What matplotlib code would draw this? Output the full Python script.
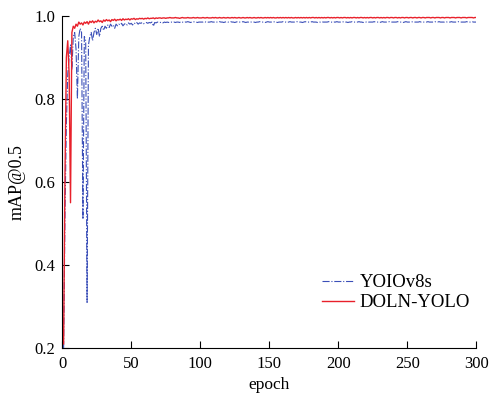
import numpy as np
import matplotlib
matplotlib.use('Agg')
import matplotlib.pyplot as plt

plt.rcParams['font.family'] = ['Liberation Serif', 'DejaVu Serif']

# mAP@0.5 per epoch (epochs 1..300)
yolov8s_map = [
    0.20, 0.52, 0.74, 0.86, 0.90, 0.93, 0.87, 0.95, 0.96, 0.92,
    0.80, 0.95, 0.97, 0.96, 0.51, 0.95, 0.94, 0.31, 0.93, 0.95,
    0.96, 0.94, 0.96, 0.97, 0.955, 0.97, 0.95, 0.97, 0.975, 0.965,
    0.975, 0.97, 0.978, 0.972, 0.98, 0.975, 0.978, 0.97, 0.98, 0.976,
    0.98, 0.978, 0.982, 0.976, 0.98, 0.982, 0.978, 0.983, 0.98, 0.982,
    0.978, 0.983, 0.981, 0.984, 0.98, 0.983, 0.982, 0.984, 0.981, 0.983,
    0.984, 0.982, 0.984, 0.983, 0.985, 0.975, 0.984, 0.983, 0.985, 0.984,
    0.984, 0.985, 0.983, 0.985, 0.984, 0.985, 0.984, 0.985, 0.985, 0.984,
    0.985, 0.984, 0.985, 0.985, 0.984, 0.986, 0.985, 0.984, 0.985, 0.985,
    0.986, 0.985, 0.984, 0.985, 0.986, 0.985, 0.985, 0.984, 0.985, 0.985,
    0.985, 0.985, 0.986, 0.985, 0.984, 0.985, 0.985, 0.986, 0.985, 0.985,
    0.984, 0.985, 0.985, 0.986, 0.985, 0.985, 0.984, 0.985, 0.986, 0.985,
    0.985, 0.986, 0.985, 0.985, 0.984, 0.985, 0.986, 0.985, 0.985, 0.985,
    0.986, 0.985, 0.984, 0.985, 0.985, 0.986, 0.985, 0.985, 0.985, 0.984,
    0.985, 0.985, 0.986, 0.985, 0.985, 0.985, 0.984, 0.985, 0.986, 0.985,
    0.985, 0.985, 0.985, 0.986, 0.985, 0.984, 0.985, 0.985, 0.985, 0.986,
    0.985, 0.985, 0.984, 0.985, 0.986, 0.985, 0.985, 0.985, 0.985, 0.986,
    0.985, 0.985, 0.985, 0.984, 0.985, 0.986, 0.985, 0.985, 0.985, 0.985,
    0.986, 0.985, 0.985, 0.985, 0.984, 0.985, 0.985, 0.986, 0.985, 0.985,
    0.985, 0.985, 0.986, 0.985, 0.985, 0.984, 0.985, 0.985, 0.986, 0.985,
    0.985, 0.985, 0.985, 0.986, 0.985, 0.985, 0.984, 0.985, 0.985, 0.986,
    0.985, 0.985, 0.985, 0.985, 0.986, 0.985, 0.985, 0.984, 0.985, 0.985,
    0.986, 0.985, 0.985, 0.985, 0.985, 0.986, 0.985, 0.985, 0.985, 0.984,
    0.985, 0.986, 0.985, 0.985, 0.985, 0.985, 0.986, 0.985, 0.985, 0.985,
    0.985, 0.985, 0.986, 0.985, 0.985, 0.985, 0.984, 0.985, 0.986, 0.985,
    0.985, 0.985, 0.985, 0.986, 0.985, 0.985, 0.985, 0.985, 0.986, 0.985,
    0.985, 0.985, 0.985, 0.985, 0.986, 0.985, 0.985, 0.985, 0.985, 0.986,
    0.985, 0.985, 0.986, 0.985, 0.985, 0.985, 0.985, 0.986, 0.985, 0.985,
    0.985, 0.986, 0.985, 0.985, 0.985, 0.985, 0.986, 0.985, 0.985, 0.985,
    0.985, 0.985, 0.986, 0.985, 0.985, 0.985, 0.986, 0.985, 0.985, 0.985,
]

doln_map = [
    0.21, 0.62, 0.90, 0.94, 0.86, 0.55, 0.96, 0.975, 0.97, 0.98,
    0.975, 0.985, 0.98, 0.983, 0.978, 0.985, 0.982, 0.986, 0.98, 0.987,
    0.984, 0.988, 0.983, 0.987, 0.985, 0.99, 0.986, 0.988, 0.984, 0.99,
    0.987, 0.991, 0.988, 0.99, 0.986, 0.991, 0.989, 0.992, 0.988, 0.991,
    0.99, 0.992, 0.989, 0.993, 0.99, 0.992, 0.991, 0.993, 0.99, 0.993,
    0.992, 0.994, 0.991, 0.993, 0.992, 0.994, 0.993, 0.994, 0.992, 0.994,
    0.993, 0.995, 0.993, 0.994, 0.994, 0.995, 0.993, 0.995, 0.994, 0.995,
    0.995, 0.994, 0.995, 0.995, 0.994, 0.995, 0.995, 0.996, 0.995, 0.995,
    0.995, 0.996, 0.995, 0.995, 0.994, 0.995, 0.996, 0.995, 0.995, 0.995,
    0.996, 0.995, 0.995, 0.995, 0.996, 0.995, 0.995, 0.996, 0.995, 0.995,
    0.995, 0.996, 0.995, 0.995, 0.996, 0.995, 0.995, 0.995, 0.996, 0.995,
    0.996, 0.995, 0.995, 0.996, 0.995, 0.995, 0.996, 0.995, 0.995, 0.996,
    0.995, 0.995, 0.996, 0.995, 0.996, 0.995, 0.995, 0.996, 0.995, 0.995,
    0.996, 0.995, 0.995, 0.996, 0.995, 0.996, 0.995, 0.995, 0.996, 0.995,
    0.995, 0.996, 0.995, 0.996, 0.995, 0.995, 0.996, 0.995, 0.996, 0.995,
    0.996, 0.995, 0.996, 0.995, 0.995, 0.996, 0.995, 0.996, 0.995, 0.996,
    0.995, 0.996, 0.995, 0.996, 0.995, 0.996, 0.995, 0.995, 0.996, 0.995,
    0.996, 0.995, 0.996, 0.995, 0.996, 0.995, 0.996, 0.995, 0.996, 0.995,
    0.996, 0.996, 0.995, 0.996, 0.995, 0.996, 0.995, 0.996, 0.995, 0.996,
    0.995, 0.996, 0.996, 0.995, 0.996, 0.995, 0.996, 0.995, 0.996, 0.996,
    0.995, 0.996, 0.995, 0.996, 0.996, 0.995, 0.996, 0.995, 0.996, 0.995,
    0.996, 0.996, 0.995, 0.996, 0.995, 0.996, 0.996, 0.995, 0.996, 0.995,
    0.996, 0.995, 0.996, 0.996, 0.995, 0.996, 0.995, 0.996, 0.996, 0.995,
    0.996, 0.995, 0.996, 0.995, 0.996, 0.996, 0.995, 0.996, 0.996, 0.995,
    0.996, 0.996, 0.995, 0.996, 0.995, 0.996, 0.996, 0.995, 0.996, 0.996,
    0.995, 0.996, 0.996, 0.995, 0.996, 0.996, 0.995, 0.996, 0.996, 0.995,
    0.996, 0.996, 0.995, 0.996, 0.996, 0.996, 0.995, 0.996, 0.996, 0.995,
    0.996, 0.996, 0.996, 0.995, 0.996, 0.996, 0.995, 0.996, 0.996, 0.996,
    0.995, 0.996, 0.996, 0.996, 0.995, 0.996, 0.996, 0.996, 0.995, 0.996,
    0.996, 0.996, 0.995, 0.996, 0.996, 0.996, 0.996, 0.995, 0.996, 0.996,
]

epochs = np.arange(1, len(doln_map) + 1)
x_ticks = [0, 50, 100, 150, 200, 250, 300]
y_ticks = [0.2, 0.4, 0.6, 0.8, 1.0]

fig = plt.figure(figsize=(4.9, 3.96), dpi=100)
ax = fig.add_axes([0.127, 0.121, 0.845, 0.839])

ax.plot(epochs, yolov8s_map, color='#3b4fb8', ls='-.', lw=0.8, label='YOIOv8s')
ax.plot(epochs, doln_map, color='#e8202a', ls='-', lw=1.0, label='DOLN-YOLO')

ax.set_xlim(0, 300)
ax.set_ylim(0.2, 1.0)
ax.set_xticks(x_ticks)
ax.set_yticks(y_ticks)
ax.set_yticklabels([f'{v:.1f}' for v in y_ticks])
ax.tick_params(direction='in', labelsize=12, length=5, width=0.8)
ax.tick_params(axis='x', pad=6)
ax.tick_params(axis='y', pad=5)
ax.spines['top'].set_visible(False)
ax.spines['right'].set_visible(False)
ax.set_xlabel('epoch', fontsize=12.5, labelpad=3)
ax.set_ylabel('mAP@0.5', fontsize=13, labelpad=6)

ax.legend(loc='lower right', bbox_to_anchor=(1.025, 0.06), frameon=False, fontsize=13.5,
          handlelength=1.7, handletextpad=0.3, labelspacing=0.15)

fig.savefig('out.png', dpi=100)
